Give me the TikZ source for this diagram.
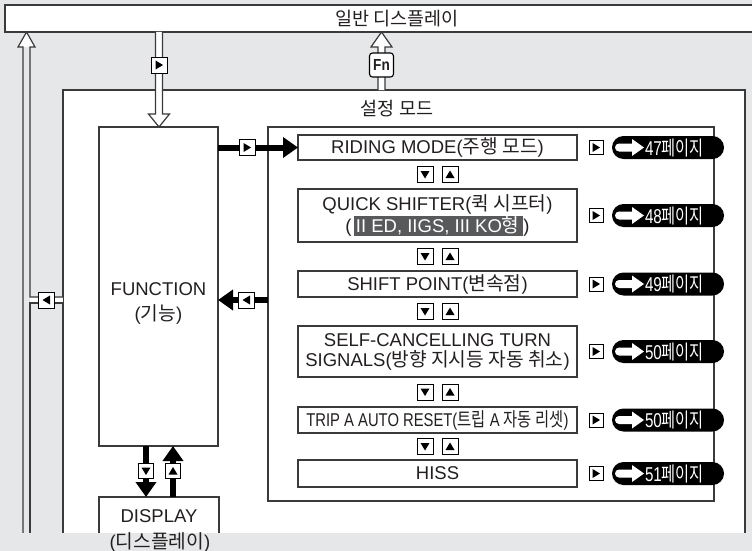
\documentclass[tikz,border=0pt]{standalone}
\usepackage{fontspec}
\setmainfont{Liberation Sans}
\newfontfamily\kr{Noto Sans CJK KR}
\usetikzlibrary{arrows.meta,calc}
\definecolor{bg}{HTML}{E6E7E8}
\definecolor{hl}{HTML}{58595B}
\definecolor{ln}{HTML}{3A3A3A}
\definecolor{tx}{HTML}{231F20}
\newcommand{\itf}{\fontsize{18.5}{20}\selectfont}
\newcommand{\K}[1]{{\kr\fontsize{19.2}{20}\selectfont #1}}
\newcommand{\krf}{\kr\fontsize{18.5}{20}\selectfont}
\newcommand{\pillf}{\fontsize{20}{20}\selectfont}
\setlength{\fboxsep}{0.8pt}
\tikzset{
  trR/.style={path picture={\fill[black] ($(path picture bounding box.center)+(-3.5,-4.5)$) -- ++(0,9) -- ++(7.5,-4.5) -- cycle;}},
  trL/.style={path picture={\fill[black] ($(path picture bounding box.center)+(3.5,-4.5)$) -- ++(0,9) -- ++(-7.5,-4.5) -- cycle;}},
  trD/.style={path picture={\fill[black] ($(path picture bounding box.center)+(-4.5,-3.5)$) -- ++(9,0) -- ++(-4.5,7.5) -- cycle;}},
  trU/.style={path picture={\fill[black] ($(path picture bounding box.center)+(-4.5,3.5)$) -- ++(9,0) -- ++(-4.5,-7.5) -- cycle;}},
}
\newcommand\vhollow[3]{%
  \fill[white] ($(#1)+(-3.5,0)$) -- ($(#2)+(-3.5,#3)$) -- ($(#2)+(-10.5,#3)$) -- (#2) -- ($(#2)+(10.5,#3)$) -- ($(#2)+(3.5,#3)$) -- ($(#1)+(3.5,0)$) -- cycle;
  \draw[hol] ($(#1)+(-3.5,0)$) -- ($(#2)+(-3.5,#3)$) -- ($(#2)+(-10.5,#3)$) -- (#2) -- ($(#2)+(10.5,#3)$) -- ($(#2)+(3.5,#3)$) -- ($(#1)+(3.5,0)$);
}
\newcommand\pagepill[3]{%
  \node[mk=14pt,trR] (#1m) at (596,#2) {};
  \node[fill=black,rounded corners=11.5pt,minimum width=112pt,minimum height=23pt] (#1) at (668,#2) {};
  \fill[white] ($(#1.west)+(7,-4)$) -- ($(#1.west)+(20,-4)$) -- ($(#1.west)+(20,-8.5)$) -- ($(#1.west)+(32,0)$) -- ($(#1.west)+(20,8.5)$) -- ($(#1.west)+(20,4)$) -- ($(#1.west)+(7,4)$) arc (90:270:4) -- cycle;
  \node[text=white,anchor=west,font=\pillf] (#1t) at ($(#1.west)+(33,0.5)$) {\scalebox{0.76}[1]{#3{\kr 페이지}}};
}
\begin{document}
\begin{tikzpicture}[x=1pt,y=-1pt,
  every node/.style={inner sep=0pt,outer sep=0pt,text=tx},
  frame/.style={draw=ln,line width=1.3pt,fill=white},
  item/.style={frame,minimum width=279pt,align=center,font=\itf},
  mk/.style={draw=black,line width=0.9pt,fill=white,minimum width=#1,minimum height=#1},
  mk/.default=16pt,
  conn/.style={line width=6pt,black,-{Triangle[length=15pt,width=20pt]}},
  hol/.style={draw=ln,line width=1.2pt,line join=miter}]
\useasboundingbox (0,0) rectangle (752,551);
\fill[bg] (0,0) rectangle (752,551);
% main frames
\node[frame,anchor=north west,minimum width=760pt,minimum height=27pt] (top) at (5,5) {};
\node[font=\krf] (toptxt) at (397,19) {일반 디스플레이};
\node[frame,anchor=north west,minimum width=682pt,minimum height=470pt] (set) at (63,90) {};
\node[font=\krf] (settxt) at (397,109) {설정 모드};
\node[frame,anchor=north west,minimum width=446pt,minimum height=374pt] (list) at (268,127) {};
\node[frame,anchor=north west,minimum width=119pt,minimum height=319pt] (func) at (99,127) {};
\node[font=\itf,align=center] (functxt) at (158.5,303) {FUNCTION\\[5pt](\K{기능})};
\node[frame,anchor=north west,minimum width=120pt,minimum height=60pt] (disp) at (99,497) {};
\node[font=\itf] (disptxt) at (159,516) {DISPLAY};
% items
\node[item,minimum height=25pt] (riding) at (437.5,147.5) {RIDING MODE(\K{주행 모드})};
\node[item,minimum height=53pt] (quick) at (437.5,215.5) {QUICK SHIFTER(\K{퀵 시프터})\\(\hspace{2pt}\colorbox{hl}{\hspace{1.5pt}\color{white}II ED, IIGS, III KO\K{형}\hspace{3pt}})};
\node[item,minimum height=26pt] (shift) at (437.5,284) {SHIFT POINT(\K{변속점})};
\node[item,minimum height=51pt] (selfc) at (437.5,351.5) {SELF-CANCELLING TURN\\SIGNALS(\K{방향 지시등 자동 취소})};
\node[item,minimum height=26pt] (trip) at (437.5,420) {\scalebox{0.8}[1]{TRIP A AUTO RESET(\K{트립} A \K{자동 리셋})}};
\node[item,minimum height=27pt] (hiss) at (437.5,473.5) {HISS};
% up/down markers
\foreach \n/\yy in {1/174.5,2/256.5,3/311.5,4/392,5/446.5}{
  \node[mk,trD] (dn\n) at (425,\yy) {};
  \node[mk,trU] (up\n) at (450,\yy) {};
}
% page pills
\pagepill{p1}{147.5}{47}
\pagepill{p2}{215.5}{48}
\pagepill{p3}{284}{49}
\pagepill{p4}{351.5}{50}
\pagepill{p5}{420}{50}
\pagepill{p6}{473.5}{51}
% black connectors
\coordinate (y300) at (0,300);
\coordinate (xd) at (146,0);
\coordinate (xu) at (173,0);
\draw[conn] (func.east |- riding.west) -- (riding.west);
\node[mk=16pt,trR] (m1) at (247,147.5) {};
\draw[conn] (list.west |- y300) -- (func.east |- y300);
\node[mk=16pt,trL] (m2) at (246.5,300) {};
\draw[conn] (func.south -| xd) -- (disp.north -| xd);
\node[mk=15pt,trD] (m3) at (146,471) {};
\draw[conn] (disp.north -| xu) -- (func.south -| xu);
\node[mk=15pt,trU] (m4) at (173,471) {};
% hollow arrows
\coordinate (xa) at (159,0);
\coordinate (xf) at (381.5,0);
\vhollow{top.south -| xa}{func.north -| xa}{-13}
\node[mk=16pt,trR] (m5) at (159,65) {};
\vhollow{set.north -| xf}{top.south -| xf}{15}
\node[draw=black,line width=1.1pt,fill=white,rounded corners=3pt,minimum width=24pt,minimum height=24pt,font=\bfseries\fontsize{16}{16}\selectfont] (fn) at (381.5,65) {\scalebox{0.85}[1]{Fn}};
% left hollow arrow with side branch
\coordinate (lx) at (26.5,0);
\coordinate (y297) at (0,297);
\coordinate (y303) at (0,303);
\fill[white] (18,47) -- (top.south -| lx) -- (35,47) -- cycle;
\fill[white] (30,297) rectangle (set.west |- y303);
\draw[hol] (23,540) -- (23,47) -- (18,47) -- (top.south -| lx) -- (35,47) -- (30,47) -- (30,297) -- (set.west |- y297);
\draw[hol] (set.west |- y303) -- (30,303) -- (30,540);
\node[mk=16pt,trL] (m6) at (46.5,300) {};
% bottom strip
\fill[bg] (0,533) rectangle (752,551);
\node[font=\itf] (disptxt2) at (160,542) {(\K{디스플레이})};
\end{tikzpicture}
\end{document}
